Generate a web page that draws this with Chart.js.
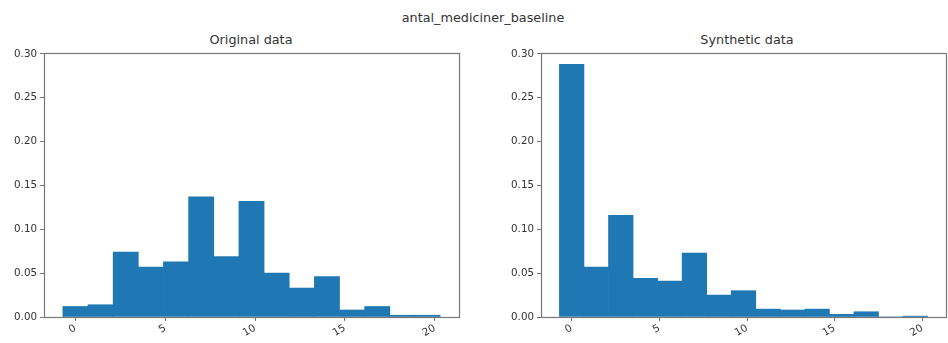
<!DOCTYPE html>
<html>
<head>
<meta charset="utf-8">
<script src="https://cdn.jsdelivr.net/npm/chart.js@4.4.1/dist/chart.umd.min.js"></script>
<style>
  html, body { margin: 0; padding: 0; background: #fff; }
  #wrap { position: relative; width: 948px; height: 343px; overflow: hidden; font-family: "DejaVu Sans", sans-serif; color: #333; }
  .cv { position: absolute; top: 0; }
  .ttl { position: absolute; font-size: 12.8px; white-space: nowrap; transform: translateX(-50%); }
</style>
</head>
<body>
<div id="wrap">
  <div class="ttl" style="left:483px; top:10px;">antal_mediciner_baseline</div>
  <div class="ttl" style="left:251px; top:32px;">Original data</div>
  <div class="ttl" style="left:747px; top:32px;">Synthetic data</div>
  <canvas id="leftChart" class="cv" style="left:0px;" width="470" height="343"></canvas>
  <canvas id="rightChart" class="cv" style="left:470px;" width="478" height="343"></canvas>
</div>
<script>
// histogram bin centres (15 bins, width 1.4, from -0.7 to 20.3)
const binCenters = [0, 1.4, 2.8, 4.2, 5.6, 7.0, 8.4, 9.8, 11.2, 12.6, 14.0, 15.4, 16.8, 18.2, 19.6];
const originalValues = [0.012, 0.014, 0.074, 0.057, 0.063, 0.137, 0.069, 0.132, 0.050, 0.033, 0.046, 0.008, 0.012, 0.002, 0.002];
const syntheticValues = [0.288, 0.057, 0.116, 0.044, 0.041, 0.073, 0.025, 0.030, 0.009, 0.008, 0.009, 0.003, 0.006, 0.000, 0.001];
const xTicks = [0, 5, 10, 15, 20];
const yTicks = [0, 0.05, 0.10, 0.15, 0.20, 0.25, 0.30];

const barColor = "#1f77b4";
const spineColor = "#777";
const textColor = "#333";

// draw all four spines like matplotlib
const framePlugin = {
    id: "frame",
    afterDraw(chart) {
        let a = chart.chartArea;
        let ctx = chart.ctx;
        ctx.save();
        ctx.strokeStyle = spineColor;
        ctx.lineWidth = 1.2;
        ctx.strokeRect(Math.round(a.left) + 0.5, Math.round(a.top) + 0.5,
            Math.round(a.right - a.left), Math.round(a.bottom - a.top));
        ctx.restore();
    }
};

function makeHist(id, values, yAxisWidth, rightPad) {
    let ctx = document.getElementById(id).getContext("2d");
    return new Chart(ctx, {
        type: "bar",
        data: {
            datasets: [{
                data: binCenters.map((c, i) => ({ x: c, y: values[i] })),
                backgroundColor: barColor,
                borderWidth: 0,
                barPercentage: 1,
                categoryPercentage: 1,
                grouped: false
            }]
        },
        options: {
            responsive: false,
            animation: false,
            layout: { padding: { top: 53, right: rightPad, left: 0, bottom: 0 } },
            plugins: { legend: { display: false }, tooltip: { enabled: false } },
            scales: {
                x: {
                    type: "linear",
                    offset: false,
                    min: -1.75,
                    max: 21.35,
                    afterBuildTicks: s => { s.ticks = xTicks.map(v => ({ value: v })); },
                    afterFit: s => { s.height = 26; },
                    grid: { display: true, offset: false, drawOnChartArea: false, tickLength: 4, color: spineColor },
                    border: { display: true, color: spineColor },
                    ticks: {
                        minRotation: 30, maxRotation: 30, padding: 1,
                        color: textColor,
                        font: { family: "DejaVu Sans", size: 10.3 }
                    }
                },
                y: {
                    min: 0,
                    max: 0.301,
                    afterBuildTicks: s => { s.ticks = yTicks.map(v => ({ value: v })); },
                    afterFit: s => { s.width = yAxisWidth; },
                    grid: { display: true, drawOnChartArea: false, tickLength: 4, color: spineColor },
                    border: { display: true, color: spineColor },
                    ticks: {
                        padding: 3,
                        color: textColor,
                        font: { family: "DejaVu Sans", size: 10.3 },
                        callback: v => v.toFixed(2)
                    }
                }
            }
        },
        plugins: [framePlugin]
    });
}

makeHist("leftChart", originalValues, 44, 11);
makeHist("rightChart", syntheticValues, 71, 2);
</script>
</body>
</html>
